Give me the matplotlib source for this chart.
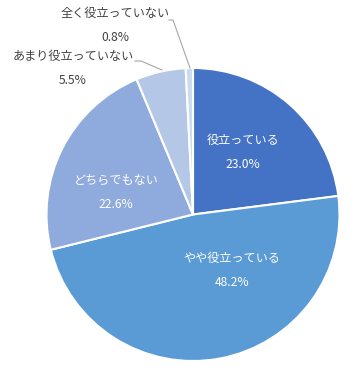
import matplotlib.pyplot as plt

plt.rcParams['font.family'] = ['Noto Sans CJK JP', 'DejaVu Sans']

labels = ["役立っている", "やや役立っている", "どちらでもない", "あまり役立っていない", "全く役立っていない"]
values = [23.0, 48.2, 22.6, 5.5, 0.8]
colors = ["#4472C4", "#5B9BD5", "#8FAADC", "#B4C7E7", "#C9DDF0"]

W, H = 364, 382
fig = plt.figure(figsize=(W / 100, H / 100), dpi=100)
ax = fig.add_axes([0, 0, 1, 1])
ax.set_xlim(0, W)
ax.set_ylim(0, H)
ax.set_aspect("equal")
ax.axis("off")

cx, cy, r = 193, H - 214.5, 146.5
ax.pie(values, colors=colors, startangle=90, counterclock=False,
       center=(cx, cy), radius=r, frame=True,
       wedgeprops=dict(edgecolor="white", linewidth=1.5))
ax.set_xlim(0, W)
ax.set_ylim(0, H)
ax.axis("off")

# label positions in pixels (from top-left), name line and value line
label_pos = [(243, 140), (232, 258), (116, 180), (73, 56), (115, 13)]
inside = [True, True, True, False, False]
fs = 8.7
for lab, v, (x, y), ins in zip(labels, values, label_pos, inside):
    col = "white" if ins else "#404040"
    ax.text(x, H - y, lab, ha="center", va="center", fontsize=fs, color=col)
    ax.text(x, H - y - 24.5, f"{v:.1f}%", ha="center", va="center", fontsize=fs, color=col)

# leader lines for the small outside slices
ax.plot([135, 141, 162], [H - 61, H - 61, H - 70], color="#A6A6A6", lw=0.8)
ax.plot([169, 173, 190], [H - 20, H - 20, H - 68], color="#A6A6A6", lw=0.8)

fig.savefig("out.png", dpi=100)
